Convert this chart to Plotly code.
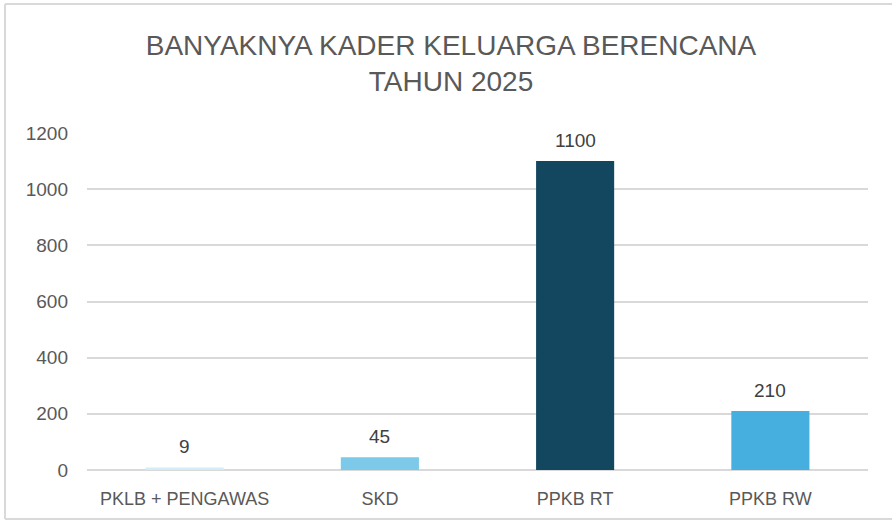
import plotly.graph_objects as go

categories = ["PKLB + PENGAWAS", "SKD", "PPKB RT", "PPKB RW"]
values = [9, 45, 1100, 210]
bar_colors = ["#d3edf8", "#7dc9ea", "#134760", "#47afe0"]
y_ticks = [0, 200, 400, 600, 800, 1000, 1200]

W, H = 892, 524
ml, mr, mt, mb = 87, 24, 133, 54
pw, ph = W - ml - mr, H - mt - mb

def px_x(px):
    return (px - ml) / pw

def px_y(py):
    return (H - mb - py) / ph

fig = go.Figure(go.Bar(
    x=categories, y=values,
    marker=dict(color=bar_colors, line=dict(width=0)),
    width=0.4,
    hoverinfo="x+y",
))

for c, v in zip(categories, values):
    fig.add_annotation(
        x=c, y=v, text=str(v), showarrow=False,
        yanchor="middle", yshift=21,
        font=dict(family="Liberation Sans, Arial, sans-serif", size=19, color="#404040"),
    )

border = dict(color="#d9d9d9", width=2)
fig.update_layout(
    width=W, height=H,
    margin=dict(l=ml, r=mr, t=mt, b=mb),
    paper_bgcolor="white", plot_bgcolor="white",
    showlegend=False,
    title=dict(
        text="BANYAKNYA KADER KELUARGA BERENCANA<br>TAHUN 2025",
        x=451 / W, xanchor="center", xref="container",
        y=1 - 55 / H, yanchor="middle", yref="container",
        font=dict(family="Liberation Sans, Arial, sans-serif", size=28, color="#595959"),
    ),
    xaxis=dict(
        showgrid=False, showline=False, zeroline=False,
        tickfont=dict(family="Liberation Sans, Arial, sans-serif", size=18, color="#595959"),
        ticks="", ticklabelstandoff=16,
    ),
    yaxis=dict(
        range=[0, 1200], tickvals=y_ticks,
        showgrid=True, gridcolor="#d9d9d9", gridwidth=1.5,
        zeroline=True, zerolinecolor="#d9d9d9", zerolinewidth=1.5,
        showline=False, ticks="",
        tickfont=dict(family="Liberation Sans, Arial, sans-serif", size=19, color="#595959"),
        ticklabelstandoff=18,
    ),
    shapes=[
        dict(type="line", xref="paper", yref="paper",
             x0=px_x(5), x1=px_x(892), y0=px_y(4), y1=px_y(4), line=border, layer="below"),
        dict(type="line", xref="paper", yref="paper",
             x0=px_x(5), x1=px_x(5), y0=px_y(4), y1=px_y(519), line=border, layer="below"),
        dict(type="line", xref="paper", yref="paper",
             x0=px_x(5), x1=px_x(892), y0=px_y(519), y1=px_y(519), line=border, layer="below"),
    ],
)

fig.write_html("out.html", config={"displayModeBar": False},
               post_script="document.body.style.margin='0';")
